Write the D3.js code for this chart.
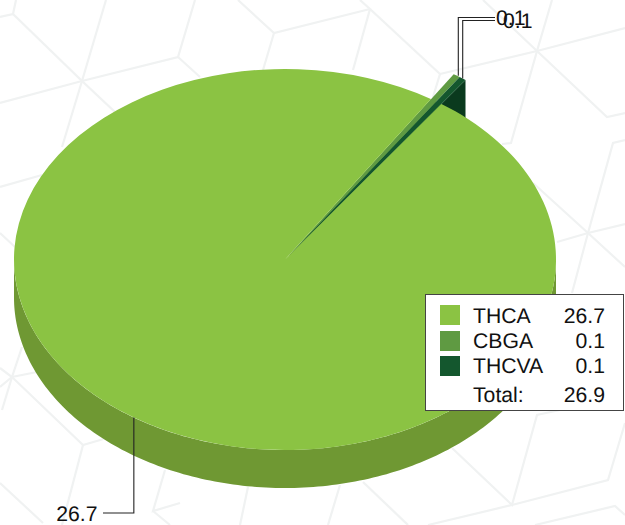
<!DOCTYPE html>
<html>
<head>
<meta charset="utf-8">
<script src="https://cdn.jsdelivr.net/npm/d3@7"></script>
<style>
  html, body { margin: 0; padding: 0; background: #fff; }
  svg { display: block; }
  text { font-family: "Liberation Sans", Arial, sans-serif; font-size: 21.2px; fill: #111; text-rendering: geometricPrecision; }
</style>
</head>
<body>
<svg id="pie_chart" width="625" height="525"></svg>
<script>
const categories = ["THCA", "CBGA", "THCVA"];
const values = [26.7, 0.1, 0.1];
const totalLabel = "Total:";
const totalValue = 26.9;
const topColors = ["#8bc343", "#5f9a42", "#14572e"];

// faint hexagon pattern behind the chart
const backdrop = [
  [[0, 17], [13, 14], [16, 0]], [[13, 14], [82, 81], [115, 112]], [[106, 0], [82, 81], [62, 147]],
  [[0, 103], [82, 81], [178, 57], [195, 0]], [[178, 57], [200, 77]], [[238, 0], [274, 33], [370, 9]],
  [[274, 33], [263, 70]], [[360, 0], [370, 9], [353, 70]], [[370, 9], [440, 74], [433, 97]],
  [[440, 74], [537, 51], [625, 28]], [[483, 0], [537, 51], [607, 117], [625, 113]],
  [[552, 0], [537, 51], [511, 143], [502, 144]], [[625, 140], [613, 143], [588, 233], [572, 293]],
  [[533, 183], [588, 233], [625, 267]], [[557, 242], [588, 233], [625, 224]],
  [[0, 187], [42, 175]], [[0, 233], [15, 247]], [[0, 368], [12, 377], [83, 445], [107, 438]],
  [[0, 387], [12, 377], [37, 372]], [[22, 347], [12, 377], [2, 410]], [[83, 445], [62, 525]],
  [[0, 483], [43, 523]], [[165, 470], [153, 511], [180, 503]], [[153, 511], [170, 525]],
  [[248, 487], [240, 525]], [[340, 485], [328, 525]], [[363, 482], [408, 525]],
  [[452, 448], [512, 505], [537, 415], [560, 410]], [[428, 525], [512, 505], [608, 480], [625, 423]],
  [[625, 515], [615, 506], [535, 525]]
];

// Set up pie geometry
const cx = 285, cy = 259.5;
const rx = 271, ry = 190.5;
const depth = 38;
const tilt = ry / rx;
const explodedRadius = 305;
const explodeX = 4.5, explodeY = -4.5;
const sideColor = "#6f9833";
const cutColor = "#0a3a1e";

const svg = d3.select("#pie_chart");

svg.append("g")
  .selectAll("path")
  .data(backdrop)
  .join("path")
  .attr("d", d3.line())
  .attr("fill", "none")
  .attr("stroke", "#f0f2f2")
  .attr("stroke-width", 2.2);

// THCA starts right after the two thin slices
const startAngle = 35.24 * Math.PI / 180;
const slices = d3.pie()
  .sort(null)
  .startAngle(startAngle)
  .endAngle(startAngle + 2 * Math.PI)(values);

const arc = d3.arc().innerRadius(0);
const midAngle = d => (d.startAngle + d.endAngle) / 2;

const main = slices[0];
const thin = slices.slice(1);
const thinCenter = [cx + explodeX, cy + explodeY];
const thinPoint = a => [
  thinCenter[0] + explodedRadius * Math.sin(a),
  thinCenter[1] - explodedRadius * tilt * Math.cos(a)
];

// Cut face of the thin slices, mostly hidden by the big one
const lastEdge = thinPoint(thin[1].endAngle);
svg.append("path")
  .attr("d", d3.line()([
    thinCenter, lastEdge,
    [lastEdge[0], lastEdge[1] + depth],
    [thinCenter[0], thinCenter[1] + depth]
  ]))
  .attr("fill", cutColor);

// Keep the very tip of the gap green instead of showing the page through it
svg.append("g")
  .attr("transform", `translate(${cx}, ${cy}) scale(1, ${tilt})`)
  .selectAll("path")
  .data(thin)
  .join("path")
  .attr("d", d => arc.outerRadius(rx)(d))
  .attr("fill", topColors[0]);

svg.append("g")
  .attr("transform", `translate(${thinCenter}) scale(1, ${tilt})`)
  .selectAll("path")
  .data(thin)
  .join("path")
  .attr("d", d => arc.outerRadius(explodedRadius)(d))
  .attr("fill", (d, i) => topColors[i + 1]);

// Side wall of the big slice, front half only
const side = d3.area()
  .x(a => cx + rx * Math.sin(a))
  .y0(a => cy - ry * Math.cos(a))
  .y1(a => cy - ry * Math.cos(a) + depth);

svg.append("path")
  .attr("d", side(d3.range(90, 270.5, 1).map(a => a * Math.PI / 180)))
  .attr("fill", sideColor);

svg.append("g")
  .attr("transform", `translate(${cx}, ${cy}) scale(1, ${tilt})`)
  .append("path")
  .attr("d", arc.outerRadius(rx)(main))
  .attr("fill", topColors[0]);

// Leader lines and value labels
const fmt = d3.format(".1f");
const leader = d3.line();
const mainStart = [cx + rx * Math.sin(midAngle(main)), cy - ry * Math.cos(midAngle(main))];

svg.append("path")
  .attr("d", leader([mainStart, [mainStart[0], 513], [103, 513]]))
  .attr("fill", "none")
  .attr("stroke", "#222")
  .attr("stroke-width", 1.1);

svg.append("text")
  .attr("x", 97.5)
  .attr("y", 520.5)
  .attr("text-anchor", "end")
  .text(fmt(main.value));

const leaderX = [458.3, 462.7];
const leaderY = [17.5, 20.5];
const leaderEnd = 495;
const labelX = [496, 503];
thin.forEach((d, i) => {
  const p = thinPoint(midAngle(d));
  svg.append("path")
    .attr("d", leader([[leaderX[i], p[1]], [leaderX[i], leaderY[i]], [leaderEnd, leaderY[i]]]))
    .attr("fill", "none")
    .attr("stroke", "#222")
    .attr("stroke-width", 1.1);
  svg.append("text")
    .attr("x", labelX[i])
    .attr("y", leaderY[i] + 7.5)
    .text(fmt(d.value));
});

// Legend box
const legend = svg.append("g");
legend.append("rect")
  .attr("x", 425.5)
  .attr("y", 294.5)
  .attr("width", 198)
  .attr("height", 116)
  .attr("fill", "#fff")
  .attr("stroke", "#444")
  .attr("stroke-width", 1);

const rowBase = [322.7, 347.5, 373, 402.3];
const swatchTop = [305, 331, 356];

categories.forEach((c, i) => {
  legend.append("rect")
    .attr("x", 440)
    .attr("y", swatchTop[i])
    .attr("width", 20)
    .attr("height", 20)
    .attr("fill", topColors[i]);
  legend.append("text")
    .attr("x", 473)
    .attr("y", rowBase[i])
    .text(c);
  legend.append("text")
    .attr("x", 605)
    .attr("y", rowBase[i])
    .attr("text-anchor", "end")
    .text(fmt(values[i]));
});

legend.append("text")
  .attr("x", 473)
  .attr("y", rowBase[3])
  .text(totalLabel);
legend.append("text")
  .attr("x", 605)
  .attr("y", rowBase[3])
  .attr("text-anchor", "end")
  .text(fmt(totalValue));
</script>
</body>
</html>
